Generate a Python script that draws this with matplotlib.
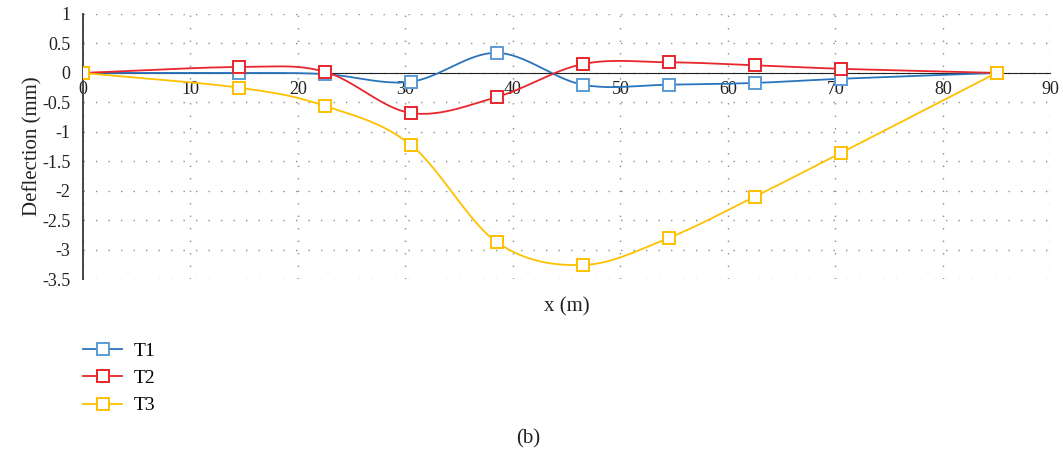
import matplotlib.pyplot as plt
import numpy as np
from matplotlib.ticker import MultipleLocator

plt.rcParams['font.family'] = ['Liberation Serif', 'DejaVu Serif']

# data
x_pos = [0, 14.5, 22.5, 30.5, 38.5, 46.5, 54.5, 62.5, 70.5, 85]
t1 = [0, 0.0, -0.02, -0.15, 0.34, -0.2, -0.2, -0.17, -0.1, 0]
t2 = [0, 0.1, 0.02, -0.68, -0.41, 0.15, 0.18, 0.13, 0.07, 0]
t3 = [0, -0.25, -0.56, -1.22, -2.87, -3.26, -2.8, -2.1, -1.36, 0]

series = [('T1', t1, '#2a74bd', '#5b9bd5'),
          ('T2', t2, '#e8262c', '#e8262c'),
          ('T3', t3, '#ffc000', '#ffc000')]


def smooth(xs, ys, n=30):
    # Catmull-Rom path through the points, like a spreadsheet "smoothed line"
    p = np.column_stack([xs, ys]).astype(float)
    p = np.vstack([2 * p[0] - p[1], p, 2 * p[-1] - p[-2]])
    out = []
    t = np.linspace(0, 1, n)[:, None]
    for i in range(1, len(p) - 2):
        p0, p1, p2, p3 = p[i - 1], p[i], p[i + 1], p[i + 2]
        seg = 0.5 * ((2 * p1) + (-p0 + p2) * t + (2 * p0 - 5 * p1 + 4 * p2 - p3) * t ** 2
                     + (-p0 + 3 * p1 - 3 * p2 + p3) * t ** 3)
        out.append(seg if i == 1 else seg[1:])
    out = np.vstack(out)
    return out[:, 0], out[:, 1]


fig = plt.figure(figsize=(10.63, 4.51), dpi=100)
ax = fig.add_axes([0.078, 0.381, 0.910, 0.588])

for name, vals, lc, mc in series:
    sx, sy = smooth(x_pos, vals)
    ax.plot(sx, sy, color=lc, lw=1.3, zorder=3)
    ax.plot(x_pos, vals, ls='none', marker='s', ms=8.5, mfc='white', mec=mc, mew=1.4, zorder=4)
    ax.plot([], [], color=lc, lw=1.3, marker='s', ms=8.5, mfc='white', mec=mc, mew=1.4, label=name)

ax.set_xlim(0, 90)
ax.set_ylim(-3.5, 1)
ax.xaxis.set_major_locator(MultipleLocator(10))
ax.yaxis.set_major_locator(MultipleLocator(0.5))
ax.grid(True, color='#8c8c8c', ls=(0, (1, 8)), lw=1.0)

for s in ['top', 'right']:
    ax.spines[s].set_visible(False)
ax.spines['bottom'].set_position(('data', 0))
ax.spines['bottom'].set_color('#222222')
ax.spines['left'].set_color('#444444')
ax.spines['left'].set_linewidth(1.4)
ax.tick_params(length=0, labelsize=13, colors='#222222')
ax.tick_params(axis='x', pad=6)
ax.tick_params(axis='y', pad=9)
ax.set_yticks(np.arange(-3.5, 1.01, 0.5))
ax.set_yticklabels(['-3.5', '-3', '-2.5', '-2', '-1.5', '-1', '-0.5', '0', '0.5', '1'])

ax.set_ylabel('Deflection (mm)', fontsize=15, color='#222222', labelpad=0)
fig.text(0.533, 0.32, 'x (m)', fontsize=15, ha='center', va='center', color='#222222')
fig.text(0.497, 0.026, '(b)', fontsize=15, ha='center', va='center', color='#222222')

ax.legend(loc='upper left', bbox_to_anchor=(0.062, 0.28), bbox_transform=fig.transFigure,
          frameon=False, fontsize=14, handlelength=2.0, labelspacing=0.5, handletextpad=0.6)

fig.savefig('out.png', dpi=100)
